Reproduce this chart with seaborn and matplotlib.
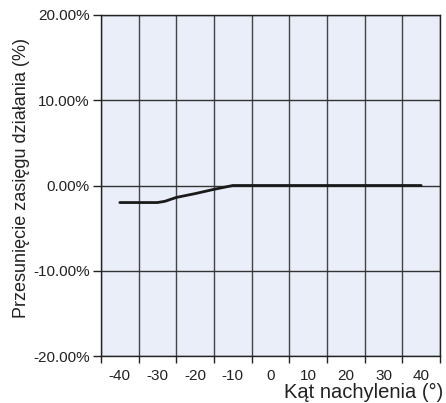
import numpy as np
import pandas as pd
import seaborn as sns
import matplotlib.pyplot as plt
from matplotlib.ticker import FuncFormatter, MultipleLocator

# tilt angle (deg) vs range shift (%)
angles = [-40, -35, -30, -28, -25, -20, -15, -10, -5, 0, 5, 10, 15, 20, 25, 30, 35, 40]
shift = [-2.0, -2.0, -2.0, -1.85, -1.4, -0.95, -0.45, 0.0, 0.0, 0.0, 0.0, 0.0, 0.0, 0.0, 0.0, 0.0, 0.0, 0.0]
x_labels = [-40, -30, -20, -10, 0, 10, 20, 30, 40]
y_ticks = [-20, -10, 0, 10, 20]

df = pd.DataFrame({"angle": angles, "shift": shift})

sns.set_style("white")
plt.rcParams['font.family'] = ['Liberation Sans', 'DejaVu Sans']
plt.rcParams['axes.unicode_minus'] = False

fig = plt.figure(figsize=(4.46, 4.03), dpi=100)
ax = fig.add_axes([101/446, 1 - 356/403, 339/446, 341/403])
ax.set_facecolor("#e9eef8")

sns.lineplot(data=df, x="angle", y="shift", color="#1a1a1a", linewidth=2, ax=ax)

ax.set_xlim(-45, 45)
ax.set_ylim(-20, 20)
ax.set_xticks(x_labels)
ax.xaxis.set_minor_locator(MultipleLocator(10, offset=5))
ax.set_yticks(y_ticks)
ax.yaxis.set_major_formatter(FuncFormatter(lambda v, p: f"{v:.2f}%"))

ax.tick_params(axis="x", which="major", length=0, pad=9, labelsize=11, colors="#222222")
ax.tick_params(axis="x", which="minor", length=5, width=1, direction="out", bottom=True, color="#222222")
ax.tick_params(axis="y", which="major", length=6, width=1, direction="out", left=True, pad=2, labelsize=11, colors="#222222")

ax.grid(False)
ax.grid(True, axis="y", which="major", color="#333333", linewidth=1)
ax.grid(True, axis="x", which="minor", color="#444444", linewidth=1)

for s in ax.spines.values():
    s.set_color("#222222")
    s.set_linewidth(1)

ax.set_xlabel("Kąt nachylenia (°)", fontsize=14.5, color="#222222", ha="right")
ax.xaxis.set_label_coords((443 - 101) / 339, (356 - 383) / 341)
ax.set_ylabel("Przesunięcie zasięgu działania (%)", fontsize=13, color="#222222")
ax.yaxis.set_label_coords((30 - 101) / 339, (356 - 178) / 341)

fig.savefig("out.png", dpi=100)
